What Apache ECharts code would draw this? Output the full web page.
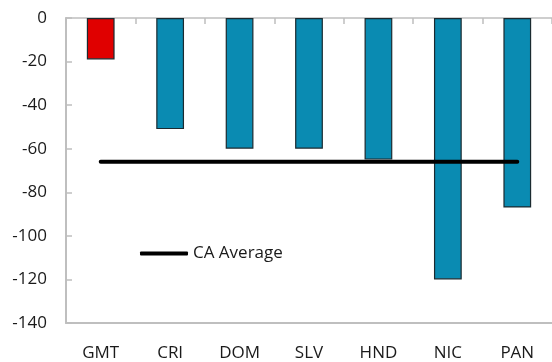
<!DOCTYPE html>
<html>
<head>
<meta charset="utf-8">
<script src="https://cdn.jsdelivr.net/npm/echarts@6/dist/echarts.min.js"></script>
<style>
  html, body { margin: 0; padding: 0; background: #fff; }
  #chart { width: 552px; height: 362px; }
</style>
</head>
<body>
<div id="chart"></div>
<script>
// Countries and their values
const categories = ['GMT', 'CRI', 'DOM', 'SLV', 'HND', 'NIC', 'PAN'];
const values = [-19, -51, -60, -60, -65, -120, -87];
// Regional average, drawn across the country range
const caAverage = [-66, -66, -66, -66, -66, -66, -66];
const yTicks = { min: -140, max: 0, interval: 20 };

const highlightColor = '#e00000';
const barColor = '#0a8bb2';
const axisGray = '#bfbfbf';
const fontFamily = '"Open Sans", "Noto Sans", sans-serif';

const chart = echarts.init(document.getElementById('chart'), null, { renderer: 'canvas' });

chart.setOption({
  animation: false,
  backgroundColor: '#fff',
  grid: { left: 66, top: 18, width: 489, height: 307, containLabel: false },
  legend: {
    data: [{ name: 'CA Average', icon: 'roundRect' }],
    left: 140,
    top: 245,
    padding: 0,
    itemWidth: 48,
    itemHeight: 4,
    textStyle: { fontFamily: fontFamily, fontSize: 17, color: '#1a1a1a' }
  },
  xAxis: [
    {
      type: 'category',
      data: categories,
      position: 'bottom',
      axisLine: { onZero: false, lineStyle: { color: axisGray, width: 2 } },
      axisTick: { show: false },
      axisLabel: { margin: 22, fontFamily: fontFamily, fontSize: 17, color: '#1a1a1a' }
    },
    {
      type: 'category',
      data: categories,
      position: 'top',
      axisLine: { onZero: false, lineStyle: { color: axisGray, width: 1.5 } },
      axisTick: { show: true, inside: true, length: 6, lineStyle: { color: axisGray, width: 1.5 } },
      axisLabel: { show: false }
    }
  ],
  yAxis: {
    type: 'value',
    min: yTicks.min,
    max: yTicks.max,
    interval: yTicks.interval,
    axisLine: { show: true, lineStyle: { color: axisGray, width: 2 } },
    axisTick: { show: true, inside: true, length: 6, lineStyle: { color: axisGray, width: 1.5 } },
    splitLine: { show: false },
    axisLabel: { margin: 19, fontFamily: fontFamily, fontSize: 17, color: '#1a1a1a' }
  },
  series: [
    {
      name: 'Value',
      type: 'bar',
      xAxisIndex: 0,
      barCategoryGap: '60%',
      data: values.map((v, i) => ({
        value: v,
        itemStyle: { color: i === 0 ? highlightColor : barColor }
      })),
      itemStyle: { borderColor: '#1b2a30', borderWidth: 1.2 },
      z: 2
    },
    {
      name: 'CA Average',
      type: 'line',
      xAxisIndex: 0,
      data: caAverage,
      symbol: 'none',
      lineStyle: { color: '#000', width: 4, cap: 'round' },
      itemStyle: { color: '#000' },
      z: 3
    }
  ]
});
</script>
</body>
</html>
